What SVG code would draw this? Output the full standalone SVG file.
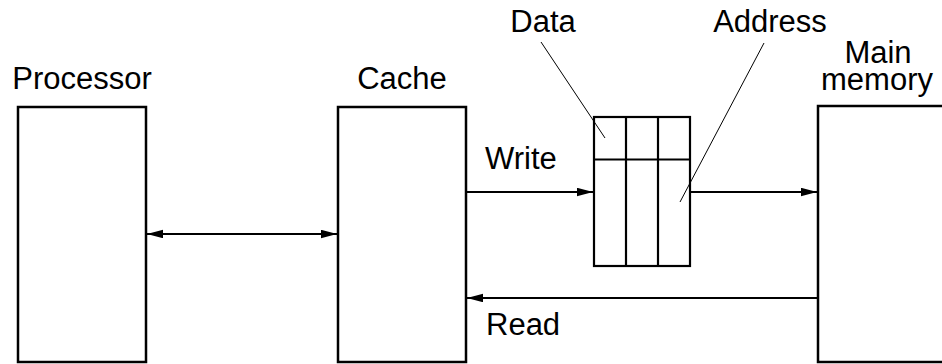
<svg xmlns="http://www.w3.org/2000/svg" width="942" height="364" viewBox="0 0 942 364">
<style>
  .box { fill: #fff; stroke: #000; stroke-width: 2.5; }
  .grid { fill: none; stroke: #000; stroke-width: 2.2; }
  .conn { fill: none; stroke: #000; stroke-width: 2; }
  .lead { fill: none; stroke: #000; stroke-width: 1; }
  .lbl { font-family: "Liberation Sans", Arial, Helvetica, sans-serif; font-size: 31px; fill: #000; }
</style>
<defs>
  <marker id="ah" markerUnits="userSpaceOnUse" markerWidth="17" markerHeight="10" refX="16" refY="4.25" orient="auto-start-reverse">
    <path d="M0,0 L16,4.25 L0,8.5 z" fill="#000"/>
  </marker>
</defs>
<rect width="942" height="364" fill="#fff"/>
<g id="processor">
  <rect class="box" x="18" y="107" width="128" height="255"/>
  <text class="lbl" x="82" y="89" text-anchor="middle">Processor</text>
</g>
<g id="cache">
  <rect class="box" x="338" y="107" width="128" height="255"/>
  <text class="lbl" x="402" y="89" text-anchor="middle">Cache</text>
</g>
<g id="main-memory">
  <rect class="box" x="818" y="106" width="140" height="256"/>
  <text class="lbl" text-anchor="middle"><tspan x="878" y="63">Main</tspan><tspan x="877" y="90">memory</tspan></text>
</g>
<g id="write-buffer">
  <rect class="grid" x="594" y="117" width="96" height="149"/>
  <line class="grid" x1="626" y1="117" x2="626" y2="266"/>
  <line class="grid" x1="658" y1="117" x2="658" y2="266"/>
  <line class="grid" x1="594" y1="159.5" x2="690" y2="159.5"/>
</g>
<g id="data-label">
  <text class="lbl" x="543" y="32" text-anchor="middle">Data</text>
  <line class="lead" x1="541" y1="42" x2="605" y2="138"/>
</g>
<g id="address-label">
  <text class="lbl" x="770" y="32" text-anchor="middle">Address</text>
  <line class="lead" x1="764" y1="43" x2="680" y2="202"/>
</g>
<g id="connectors">
  <line class="conn" x1="147" y1="234" x2="337" y2="234" marker-start="url(#ah)" marker-end="url(#ah)"/>
  <line class="conn" x1="467" y1="192" x2="593" y2="192" marker-end="url(#ah)"/>
  <line class="conn" x1="691" y1="192" x2="817" y2="192" marker-end="url(#ah)"/>
  <line class="conn" x1="817" y1="298" x2="467" y2="298" marker-end="url(#ah)"/>
  <text class="lbl" x="485" y="169">Write</text>
  <text class="lbl" x="486" y="335">Read</text>
</g>
</svg>
